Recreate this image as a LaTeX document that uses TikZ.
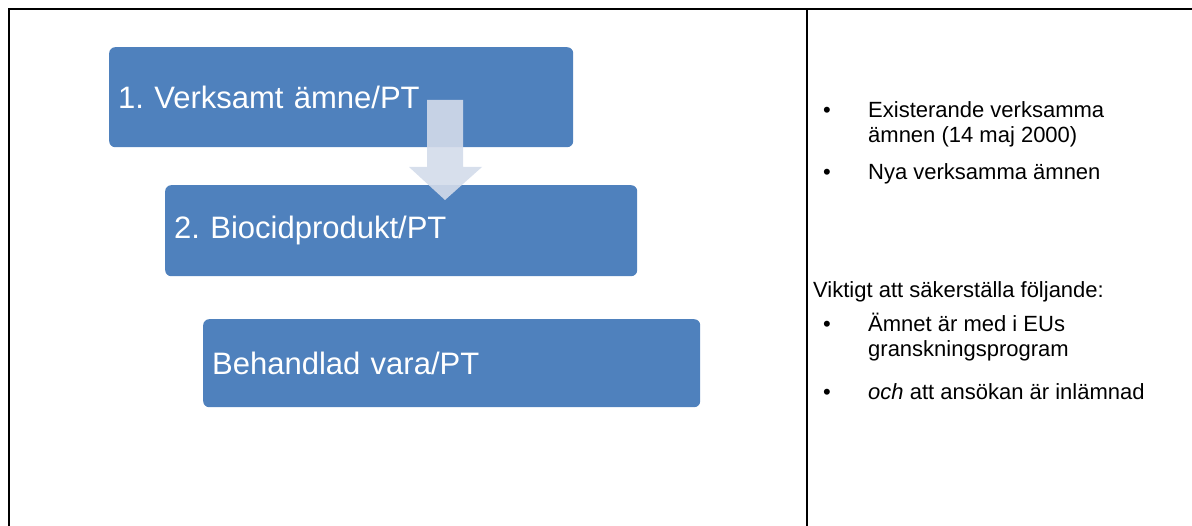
\documentclass[tikz,border=0pt]{standalone}
\usepackage{fontspec}
\setmainfont{Liberation Sans}
\usetikzlibrary{positioning}
\definecolor{stegbla}{HTML}{4F81BD}
\definecolor{pilgra}{HTML}{D3DBEA}
\frenchspacing

\begin{document}
\begin{tikzpicture}[x=1pt,y=-1pt,%
    steg/.style={fill=stegbla,rounded corners=6pt,anchor=north west,
      text=white,font=\fontsize{31}{37}\selectfont,align=left,
      inner xsep=9pt,inner ysep=0pt},
    punkt/.style={anchor=base west,font=\fontsize{22}{25}\selectfont,
      inner sep=0pt,align=left},
    ram/.style={line width=2pt}]
    \useasboundingbox (0,0) rectangle (1192,526);
    % table frame
    \draw[ram] (9,526) -- (9,9) -- (1192,9);
    \draw[ram] (807,9) -- (807,526);
    % the three steps
    \node[steg,text width=446pt,minimum height=100pt] (amne) at (109,47) {1. Verksamt ämne/PT};
    \node[steg,text width=454pt,minimum height=91pt] (produkt) at (165,185) {2. Biocidprodukt/PT};
    \node[steg,text width=479pt,minimum height=88pt] (vara) at (203,319) {Behandlad vara/PT};
    % block arrow
    \coordinate (pil) at (445,100);
    \fill[pilgra,opacity=0.9] (pil) ++(-18,0) -- ++(36,0) -- ++(0,67) -- ++(19,0)
      -- ++(-37,33) -- ++(-36,-33) -- ++(18,0) -- cycle;
    % right column (base of a two-line text is its last line)
    \node[punkt] (b1) at (823,118) {•};
    \node[punkt] (t1) at (868,143) {Existerande verksamma\\ämnen (14 maj 2000)};
    \node[punkt] (b2) at (823,180) {•};
    \node[punkt] (t2) at (868,180) {Nya verksamma ämnen};
    \node[punkt] (rubrik) at (813,298) {Viktigt att säkerställa följande:};
    \node[punkt] (b3) at (823,332) {•};
    \node[punkt] (t3) at (868,357) {Ämnet är med i EUs\\granskningsprogram};
    \node[punkt] (b4) at (823,400) {•};
    \node[punkt] (t4) at (868,400) {\textit{och} att ansökan är inlämnad};
\end{tikzpicture}
\end{document}
